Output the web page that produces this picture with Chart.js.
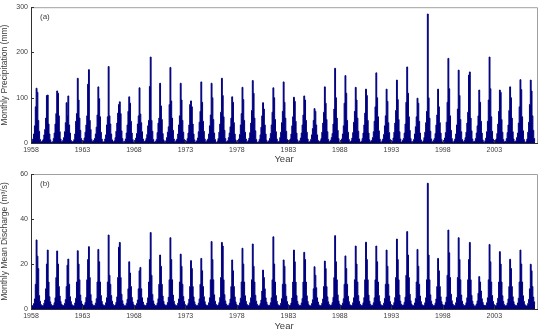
<!DOCTYPE html>
<html><head><meta charset="utf-8">
<script src="https://cdn.jsdelivr.net/npm/chart.js@4/dist/chart.umd.min.js"></script>
<style>
html,body{margin:0;padding:0;background:#fff;width:550px;height:333px;overflow:hidden}
canvas{position:absolute;left:0}
</style></head><body>
<canvas id="ca" width="550" height="166" style="top:0"></canvas>
<canvas id="cb" width="550" height="167" style="top:166px"></canvas>
<script>
// ---------- data ----------
const years = [1958,1959,1960,1961,1962,1963,1964,1965,1966,1967,1968,1969,1970,1971,1972,1973,1974,1975,1976,1977,1978,1979,1980,1981,1982,1983,1984,1985,1986,1987,1988,1989,1990,1991,1992,1993,1994,1995,1996,1997,1998,1999,2000,2001,2002,2003,2004,2005,2006];
const months = ['Jan','Feb','Mar','Apr','May','Jun','Jul','Aug','Sep','Oct','Nov','Dec'];
// monthly precipitation (mm), one row per year, Jan..Dec
const precipRows = [
[2,4,9,20,38,80,121,112,50,26,8,3],
[3,5,8,18,30,55,105,106,42,20,7,2],
[1,3,10,22,42,65,115,110,60,25,9,3],
[2,6,12,25,45,89,60,104,40,22,6,2],
[3,4,8,20,48,65,143,95,55,28,10,4],
[2,5,11,24,40,60,130,162,50,30,8,2],
[4,6,10,20,35,62,124,98,58,24,9,3],
[2,3,9,18,40,58,169,60,42,20,7,2],
[3,5,12,26,44,66,85,91,65,27,10,3],
[1,4,9,22,40,70,102,88,48,22,8,2],
[2,6,11,21,42,60,122,64,45,25,9,4],
[3,5,10,19,38,50,125,190,50,26,8,2],
[2,4,8,23,44,55,132,82,52,21,7,3],
[1,5,12,24,36,85,167,93,55,28,9,2],
[3,6,9,20,40,60,132,95,50,24,8,3],
[2,4,10,22,40,85,93,80,42,20,7,2],
[2,5,11,25,46,70,135,90,48,26,9,3],
[3,6,9,20,38,62,132,100,52,22,8,2],
[1,4,10,24,42,68,143,105,58,28,10,3],
[2,5,12,22,36,55,102,90,45,20,7,2],
[3,4,9,19,40,65,123,96,50,24,9,3],
[2,6,11,23,44,72,138,110,55,27,8,2],
[1,3,8,18,35,60,89,75,40,20,6,2],
[2,5,10,21,40,68,122,100,52,25,9,3],
[3,4,12,24,45,70,135,90,55,26,8,2],
[2,6,9,20,38,58,101,92,48,22,7,3],
[1,5,11,22,40,62,104,95,50,24,9,2],
[2,4,8,18,32,50,76,70,40,18,6,2],
[3,5,10,24,44,68,124,88,52,25,8,3],
[2,6,12,21,42,75,165,100,55,28,10,2],
[1,4,9,20,38,88,149,110,50,24,8,3],
[3,5,11,23,46,70,123,95,55,26,9,2],
[2,4,10,22,40,66,119,105,50,22,7,3],
[2,6,12,25,48,80,155,100,58,27,9,2],
[1,5,9,19,38,60,119,92,45,23,8,3],
[3,4,11,24,44,72,139,96,52,25,9,2],
[2,6,10,22,42,90,168,110,58,28,10,3],
[1,4,8,20,36,58,99,88,48,22,7,2],
[2,5,12,24,45,70,285,100,55,26,9,3],
[3,6,10,21,40,62,119,80,45,22,8,2],
[2,4,11,23,46,90,187,120,60,28,10,3],
[1,5,9,20,40,75,161,105,52,25,8,2],
[3,6,12,24,44,68,150,157,55,27,9,3],
[2,4,10,22,38,60,117,90,48,22,7,2],
[1,5,11,25,48,95,190,120,58,26,9,3],
[2,6,9,21,42,70,117,112,52,24,8,2],
[3,4,10,23,40,72,124,100,55,25,9,3],
[2,5,12,22,44,80,140,118,58,27,8,2],
[1,4,9,24,46,85,139,115,60,28,10,3]
];
// monthly mean discharge (m3/s), one row per year, Jan..Dec
const dischargeRows = [
[1.5,1.3,1.6,2.4,4.5,11,30.7,23.5,18,6,3.5,2],
[1.6,1.4,1.5,2.6,4.0,9,20,26.2,12,5.5,3.2,2],
[1.5,1.3,1.7,2.8,5.0,14,25.8,20,10,5.8,3.4,2.1],
[1.7,1.4,1.6,2.5,4.2,10,19.5,22.2,11,5.5,3.3,2],
[1.6,1.3,1.5,2.7,4.8,12,25.9,20,13,6.2,3.5,2.2],
[1.7,1.5,1.8,2.9,5.2,13,22,27.7,14,6.5,3.6,2.1],
[1.6,1.4,1.6,2.6,4.6,12,26.5,21,12,6,3.4,2],
[1.7,1.5,1.7,2.8,5.0,12,32.9,15,11,6,3.5,2.1],
[1.6,1.4,1.8,3.0,5.4,14,27.5,29.6,14,6.6,3.7,2.2],
[1.5,1.3,1.5,2.5,4.3,9,21,16,10,5.2,3.2,2],
[1.5,1.3,1.6,2.4,4.0,9,17,18.5,9,5,3.1,1.9],
[1.6,1.4,1.7,2.7,5.0,12,22,34,15,6.5,3.6,2.2],
[1.6,1.4,1.6,2.6,4.6,11,24,19,11,5.8,3.4,2],
[1.7,1.5,1.8,2.9,5.2,13,31.7,22,13,6.2,3.5,2.1],
[1.6,1.4,1.6,2.6,4.5,12,24.4,19,11,5.6,3.3,2],
[1.5,1.3,1.5,2.5,4.4,10,21.5,18,10,5.4,3.2,2],
[1.6,1.4,1.6,2.6,4.5,11,22.5,17,10,5.5,3.3,2],
[1.6,1.4,1.7,2.8,5.0,13,30,22,13,6.3,3.5,2.1],
[1.7,1.5,1.8,2.9,5.1,14,29.6,28,13,6.4,3.6,2.2],
[1.6,1.4,1.6,2.5,4.4,10,21.8,17,10,5.4,3.2,2],
[1.6,1.4,1.6,2.7,4.8,12,27,20,12,5.9,3.4,2.1],
[1.7,1.5,1.7,2.8,5.0,13,28.9,19,12,6.1,3.5,2.1],
[1.5,1.3,1.5,2.4,4.0,8,17.3,14,9,5,3.1,1.9],
[1.6,1.4,1.7,2.8,5.0,13,32.1,20,12,6,3.5,2.1],
[1.6,1.4,1.6,2.6,4.6,11,21.8,19,11,5.7,3.3,2],
[1.6,1.4,1.7,2.7,4.9,12,26.2,21,12,6,3.4,2.1],
[1.6,1.4,1.6,2.7,4.7,12,25.2,22,12,5.9,3.4,2],
[1.5,1.3,1.5,2.4,4.1,9,18.8,15,9.5,5,3.1,1.9],
[1.5,1.4,1.6,2.6,4.5,10,21.3,18,10,5.4,3.2,2],
[1.7,1.5,1.8,2.9,5.2,14,32.6,21,13,6.3,3.6,2.2],
[1.6,1.4,1.6,2.6,4.6,11,23.6,18,11,5.7,3.3,2],
[1.6,1.4,1.7,2.8,5.0,13,28,20,12,6,3.4,2.1],
[1.7,1.5,1.7,2.8,5.1,13,29.7,22,13,6.2,3.5,2.1],
[1.6,1.4,1.7,2.8,5.0,13,28,21,12,6,3.4,2.1],
[1.6,1.4,1.6,2.6,4.7,11,26.2,19,11,5.8,3.3,2],
[1.7,1.5,1.7,2.9,5.1,14,31.1,22,13,6.2,3.5,2.1],
[1.7,1.5,1.8,3.0,5.3,15,34.4,24,14,6.6,3.7,2.2],
[1.6,1.4,1.6,2.7,4.7,12,26.5,19,11,5.8,3.3,2],
[1.6,1.4,1.7,2.8,5.0,13,55.9,24,13,6.3,3.5,2.1],
[1.6,1.4,1.6,2.6,4.5,10,22.5,17,10,5.5,3.3,2],
[1.7,1.5,1.8,3.0,5.3,15,35.1,25,14,6.6,3.7,2.2],
[1.7,1.5,1.7,2.8,5.1,14,31.7,22,13,6.2,3.5,2.1],
[1.6,1.4,1.7,2.8,5.0,13,22,29.6,13,6.1,3.5,2.1],
[1.4,1.2,1.4,2.2,3.6,7,14.4,12,8,4.6,3,1.8],
[1.6,1.4,1.7,2.8,5.0,13,28.7,21,12,6,3.4,2.1],
[1.6,1.4,1.6,2.7,4.8,12,25.5,20,12,5.9,3.4,2],
[1.5,1.3,1.6,2.6,4.5,10,22.1,18,10,5.5,3.3,2],
[1.6,1.4,1.6,2.7,4.8,12,26.2,20,12,5.9,3.4,2],
[1.5,1.3,1.5,2.5,4.3,9,19.9,17,10,5.3,3.2,1.9]
];
const xTickYears = [1958,1963,1968,1973,1978,1983,1988,1993,1998,2003];
const precipTicks = [0,100,200,300];
const dischargeTicks = [0,20,40,60];

// ---------- build ----------
function toPoints(rows){
  const pts = [];
  rows.forEach((row, i) => row.forEach((v, m) => pts.push({x: years[i] + (m + 0.5) / 12, y: v})));
  return pts;
}
const NAVY = '#00007f';
const FONT = "'Liberation Sans Narrow','Liberation Sans',Arial,sans-serif";
const TXT = '#404040';

const framePlugin = {
  id: 'frame',
  afterDraw(chart, args, opts) {
    const {ctx, chartArea: a, scales: {x, y}} = chart;
    ctx.save();
    ctx.lineWidth = 1;
    ctx.strokeStyle = '#a0a0a0';
    ctx.beginPath();
    ctx.moveTo(a.left, a.top + 0.5); ctx.lineTo(a.right + 0.5, a.top + 0.5); ctx.lineTo(a.right + 0.5, a.bottom);
    ctx.stroke();
    ctx.strokeStyle = '#303030';
    ctx.beginPath();
    ctx.moveTo(a.left + 0.5, a.top); ctx.lineTo(a.left + 0.5, a.bottom + 0.5); ctx.lineTo(a.right + 1, a.bottom + 0.5);
    x.ticks.forEach(t => { const p = Math.round(x.getPixelForValue(t.value)) + 0.5; ctx.moveTo(p, a.bottom); ctx.lineTo(p, a.bottom - 3); });
    y.ticks.forEach(t => { const p = Math.round(y.getPixelForValue(t.value)) + 0.5; ctx.moveTo(a.left, p); ctx.lineTo(a.left + 3, p); });
    ctx.stroke();
    ctx.fillStyle = TXT;
    ctx.font = '8px ' + FONT;
    ctx.textBaseline = 'middle';
    ctx.fillText(opts.label, a.left + 9, a.top + 10);
    ctx.restore();
  }
};

function makeChart(id, rows, yTicks, yTitle, label, padTop, axisH) {
  return new Chart(document.getElementById(id), {
    type: 'line',
    data: { datasets: [{
      data: toPoints(rows),
      stepped: 'middle',
      borderColor: NAVY,
      backgroundColor: NAVY,
      borderWidth: 1,
      fill: 'origin',
      pointRadius: 0
    }]},
    options: {
      responsive: false,
      animation: false,
      devicePixelRatio: 1,
      layout: { padding: { left: 0, right: 13, top: padTop, bottom: 0 } },
      plugins: { legend: { display: false }, tooltip: { enabled: false }, frame: { label } },
      scales: {
        x: {
          type: 'linear', min: 1958, max: 2007.15,
          afterBuildTicks: s => { s.ticks = xTickYears.map(v => ({ value: v })); },
          afterFit: s => { s.height = axisH; },
          grid: { display: false, drawTicks: false },
          border: { display: false },
          ticks: { padding: 3, maxRotation: 0, autoSkip: false, color: TXT, font: { family: FONT, size: 7 }, callback: v => String(v) },
          title: { display: true, text: 'Year', color: TXT, font: { family: FONT, size: 9.5 }, padding: { top: 0, bottom: 1 } }
        },
        y: {
          min: yTicks[0], max: yTicks[yTicks.length - 1],
          afterBuildTicks: s => { s.ticks = yTicks.map(v => ({ value: v })); },
          afterFit: s => { s.width = 31; },
          grid: { display: false, drawTicks: false },
          border: { display: false },
          ticks: { padding: 3, color: TXT, font: { family: FONT, size: 7 }, callback: v => String(v) },
          title: { display: true, text: yTitle, color: TXT, font: { family: FONT, size: 8.5 }, padding: { top: 0, bottom: 2 } }
        }
      }
    },
    plugins: [framePlugin]
  });
}

makeChart('ca', precipRows, precipTicks, 'Monthly Precipitation (mm)', '(a)', 6, 23);
makeChart('cb', dischargeRows, dischargeTicks, 'Monthly Mean Discharge (m³/s)', '(b)', 8, 24);
</script>
</body></html>
